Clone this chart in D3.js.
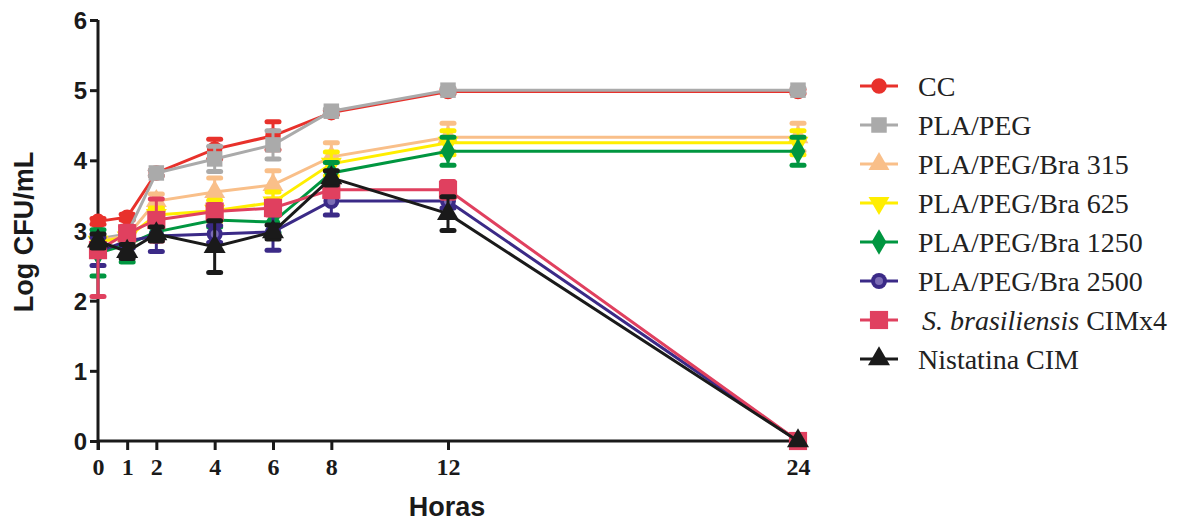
<!DOCTYPE html>
<html>
<head>
<meta charset="utf-8">
<script src="https://cdn.jsdelivr.net/npm/d3@7"></script>
<style>
  html, body { margin: 0; padding: 0; background: #fff; }
  svg { display: block; }
</style>
</head>
<body>
<svg id="chart" width="1192" height="522"></svg>
<script>
// Sampling times (hours)
const horas = [0, 1, 2, 4, 6, 8, 12, 24];
const yTicks = [0, 1, 2, 3, 4, 5, 6];

// Series names as shown in the legend
const seriesNames = ["CC", "PLA/PEG", "PLA/PEG/Bra 315", "PLA/PEG/Bra 625",
  "PLA/PEG/Bra 1250", "PLA/PEG/Bra 2500", "S. brasiliensis CIMx4", "Nistatina CIM"];

// Mean Log CFU/mL per time point
const cc        = [3.13, 3.19, 3.82, 4.16, 4.35, 4.68, 4.98, 4.98];
const plaPeg    = [2.88, 2.95, 3.82, 4.02, 4.22, 4.70, 5.00, 5.00];
const bra315    = [2.86, 2.92, 3.42, 3.55, 3.65, 4.05, 4.33, 4.33];
const bra625    = [2.84, 2.90, 3.22, 3.28, 3.40, 3.95, 4.25, 4.25];
const bra1250   = [2.68, 2.80, 2.98, 3.15, 3.12, 3.82, 4.13, 4.13];
const bra2500   = [2.70, 2.85, 2.92, 2.95, 2.98, 3.42, 3.42, 0];
const sBras     = [2.72, 2.96, 3.15, 3.27, 3.32, 3.58, 3.58, 0];
const nistatina = [2.85, 2.70, 2.95, 2.77, 2.98, 3.75, 3.24, 0];

// Error bar extents below and above the mean
const ccSdLo        = [0.04, 0.04, 0.04, 0.14, 0.20, 0.03, 0.03, 0.03];
const ccSdHi        = [0.04, 0.04, 0.04, 0.14, 0.20, 0.03, 0.03, 0.03];
const plaPegSdLo    = [0.04, 0.04, 0.04, 0.18, 0.20, 0.03, 0.03, 0.03];
const plaPegSdHi    = [0.04, 0.04, 0.04, 0.18, 0.20, 0.03, 0.03, 0.03];
const bra315SdLo    = [0.05, 0.05, 0.10, 0.20, 0.20, 0.20, 0.20, 0.20];
const bra315SdHi    = [0.05, 0.05, 0.10, 0.20, 0.20, 0.20, 0.20, 0.20];
const bra625SdLo    = [0.05, 0.05, 0.10, 0.15, 0.15, 0.17, 0.17, 0.17];
const bra625SdHi    = [0.05, 0.05, 0.10, 0.15, 0.15, 0.17, 0.17, 0.17];
const bra1250SdLo   = [0.33, 0.25, 0.10, 0.10, 0.15, 0.15, 0.20, 0.20];
const bra1250SdHi   = [0.33, 0.25, 0.10, 0.10, 0.15, 0.15, 0.20, 0.20];
const bra2500SdLo   = [0.20, 0.10, 0.22, 0.12, 0.26, 0.20, 0.10, 0];
const bra2500SdHi   = [0.20, 0.10, 0.22, 0.12, 0.26, 0.20, 0.10, 0];
const sBrasSdLo     = [0.66, 0.10, 0.30, 0.10, 0.10, 0.10, 0.12, 0];
const sBrasSdHi     = [0.10, 0.10, 0.30, 0.10, 0.10, 0.10, 0.12, 0];
const nistatinaSdLo = [0.10, 0.10, 0.10, 0.37, 0.10, 0.10, 0.24, 0];
const nistatinaSdHi = [0.10, 0.10, 0.10, 0.37, 0.10, 0.10, 0.24, 0];

const colors = ["#e8312b", "#aaaaaa", "#f9bf89", "#ffee00", "#009640",
  "#3b2a87", "#e0405f", "#1a1a1a"];

const seriesData = [cc, plaPeg, bra315, bra625, bra1250, bra2500, sBras, nistatina];
const seriesLo = [ccSdLo, plaPegSdLo, bra315SdLo, bra625SdLo, bra1250SdLo, bra2500SdLo, sBrasSdLo, nistatinaSdLo];
const seriesHi = [ccSdHi, plaPegSdHi, bra315SdHi, bra625SdHi, bra1250SdHi, bra2500SdHi, sBrasSdHi, nistatinaSdHi];

// marker: [d3 symbol, size, rotation]
const markers = [
  [d3.symbolCircle, 190, 0],
  [d3.symbolSquare, 240, 0],
  [d3.symbolTriangle, 190, 0],
  [d3.symbolTriangle, 190, 180],
  [d3.symbolDiamond, 190, 0],
  [d3.symbolCircle, 200, 0],
  [d3.symbolSquare, 330, 0],
  [d3.symbolTriangle, 210, 0]
];

const series = seriesNames.map((name, i) => ({
  name, color: colors[i], marker: markers[i],
  points: horas.map((h, j) => ({ h, v: seriesData[i][j], lo: seriesLo[i][j], hi: seriesHi[i][j] }))
}));

const svg = d3.select("#chart");
const x = d3.scaleLinear().domain([0, 24]).range([98, 798]);
const y = d3.scaleLinear().domain([0, 6]).range([441, 20]);

// Axes
const yAxis = d3.axisLeft(y).tickValues(yTicks).tickSize(8).tickPadding(3).tickFormat(d3.format("d"));
const gy = svg.append("g").attr("transform", `translate(${x(0)},0)`).call(yAxis);
gy.select(".domain").attr("d", `M0,${y(6)}V${y(0) + 9}`).attr("stroke", "#1a1a1a").attr("stroke-width", 3);
gy.selectAll(".tick line").attr("stroke", "#1a1a1a").attr("stroke-width", 3);
gy.selectAll(".tick text")
  .attr("font-family", "Liberation Sans, Arial, sans-serif")
  .attr("font-weight", "bold").attr("font-size", 24).attr("fill", "#1a1a1a")
  .attr("dy", "0.36em");

const xAxis = d3.axisBottom(x).tickValues(horas).tickSize(9).tickPadding(8).tickFormat(d3.format("d"));
const gx = svg.append("g").attr("transform", `translate(0,${y(0)})`).call(xAxis);
gx.select(".domain").attr("d", `M${x(0)},0H${x(24) + 2}`).attr("stroke", "#1a1a1a").attr("stroke-width", 3);
gx.selectAll(".tick line").attr("stroke", "#1a1a1a").attr("stroke-width", 3);
gx.selectAll(".tick text")
  .attr("font-family", "Liberation Serif, Times New Roman, serif")
  .attr("font-weight", "bold").attr("font-size", 24).attr("fill", "#1a1a1a");

// Axis titles
svg.append("text")
  .attr("transform", `translate(33,232) rotate(-90)`)
  .attr("text-anchor", "middle")
  .attr("font-family", "Liberation Sans, Arial, sans-serif")
  .attr("font-weight", "bold").attr("font-size", 27).attr("fill", "#1a1a1a")
  .text("Log CFU/mL");

svg.append("text")
  .attr("x", 447).attr("y", 516)
  .attr("text-anchor", "middle")
  .attr("font-family", "Liberation Sans, Arial, sans-serif")
  .attr("font-weight", "bold").attr("font-size", 27).attr("fill", "#1a1a1a")
  .text("Horas");

function drawMarker(g, s, cx, cy) {
  const [type, size, rot] = s.marker;
  g.append("path")
    .attr("d", d3.symbol().type(type).size(size)())
    .attr("transform", `translate(${cx},${cy}) rotate(${rot})`)
    .attr("fill", s.color);
  if (s.name === "PLA/PEG/Bra 2500") {
    g.append("circle").attr("cx", cx).attr("cy", cy).attr("r", 4).attr("fill", "#7b6cb4");
  }
}

const line = d3.line().x(d => x(d.h)).y(d => y(d.v));

// Series: line, error bars, markers
series.forEach(s => {
  const g = svg.append("g");
  g.append("path").datum(s.points)
    .attr("d", line).attr("fill", "none")
    .attr("stroke", s.color).attr("stroke-width", 3);
  s.points.filter(p => p.lo > 0 || p.hi > 0).forEach(p => {
    const cx = x(p.h), y1 = y(p.v + p.hi), y2 = y(p.v - p.lo);
    g.append("line").attr("x1", cx).attr("x2", cx).attr("y1", y1).attr("y2", y2)
      .attr("stroke", s.color).attr("stroke-width", 3);
    [y1, y2].forEach(yy => {
      g.append("line").attr("x1", cx - 6).attr("x2", cx + 6).attr("y1", yy).attr("y2", yy)
        .attr("stroke", s.color).attr("stroke-width", 5).attr("stroke-linecap", "round");
    });
  });
  s.points.forEach(p => drawMarker(g, s, x(p.h), y(p.v)));
});

// Legend
const legend = svg.append("g");
series.forEach((s, i) => {
  const ly = 86 + i * 39;
  const g = legend.append("g");
  g.append("line").attr("x1", 860).attr("x2", 898).attr("y1", ly).attr("y2", ly)
    .attr("stroke", s.color).attr("stroke-width", 3);
  drawMarker(g, s, 879, ly);
  const t = g.append("text").attr("x", 918).attr("y", ly).attr("dy", "0.35em")
    .attr("font-family", "Liberation Serif, Times New Roman, serif")
    .attr("font-size", 28).attr("fill", "#222");
  if (s.name.startsWith("S. brasiliensis")) {
    t.attr("x", 922);
    t.append("tspan").attr("font-style", "italic").text("S. brasiliensis");
    t.append("tspan").text(" CIMx4");
  } else {
    t.text(s.name);
  }
});
</script>
</body>
</html>
